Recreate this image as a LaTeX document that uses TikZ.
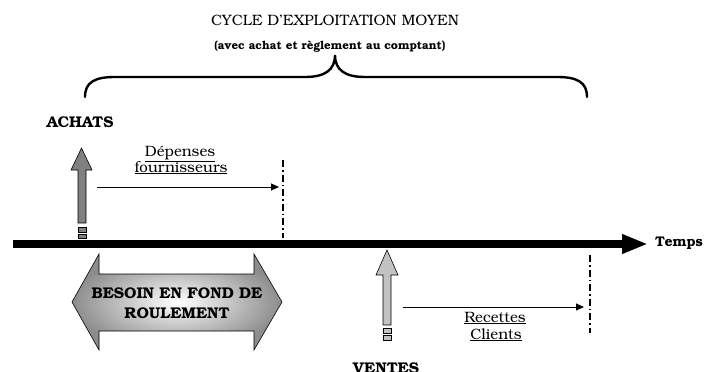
\documentclass[tikz,border=0pt]{standalone}
\usepackage[T1]{fontenc}
\usepackage{bookman}
\usetikzlibrary{arrows.meta}
\begin{document}
\begin{tikzpicture}[x=1pt,y=-1pt,
  lbl/.style={inner sep=0pt,anchor=base,align=center},
  bigbf/.style={lbl,font=\fontsize{15.5}{18}\selectfont\bfseries},
  normtxt/.style={lbl,font=\fontsize{15}{18}\selectfont},
  flow/.style={line width=1pt,-{Triangle[length=8pt,width=7pt]}},
  limit/.style={line width=1.4pt,dash pattern=on 7pt off 3pt on 1.5pt off 3pt},
  blockarrow/.style={draw=black,line width=0.6pt},
  brace/.style={line width=2.4pt,line cap=round}]
\useasboundingbox (0,0) rectangle (705,372);
% title
\node[lbl,font=\fontsize{15}{18}\selectfont] (title) at (335,25) {CYCLE D'EXPLOITATION MOYEN};
\node[lbl,font=\fontsize{11.5}{14}\selectfont\bfseries] (sub) at (330,49) {(avec achat et r\`eglement au comptant)};
% brace
\draw[brace] (85,97) .. controls (85,82) and (95,77) .. (115,77) -- (305,77)
  .. controls (325,77) and (335,70) .. (335,55)
  .. controls (335,70) and (345,77) .. (365,77) -- (557,77)
  .. controls (577,77) and (587,82) .. (587,97);
% timeline
\coordinate (t0) at (13,244);
\coordinate (t1) at (648,244);
\draw[line width=8pt,-{Triangle[length=26pt,width=18pt]}] (t0) -- (t1);
\node[lbl,font=\fontsize{14}{16}\selectfont\bfseries,anchor=base west] (temps) at (655,246) {Temps};
% achats
\node[bigbf] (achats) at (80,127) {ACHATS};
\path[blockarrow,fill=black!50] (78,223) -- (78,170) -- (71,170) -- (81.5,148) -- (92,170) -- (86,170) -- (86,223) -- cycle;
\draw[blockarrow,fill=black!50] (78,227) rectangle (86,232);
\draw[blockarrow,fill=black!50] (78,234) rectangle (86,238);
\coordinate (d0) at (97,187);
\coordinate (d1) at (279,187);
\draw[flow] (d0) -- (d1);
\node[normtxt] (dep1) at (180,156) {\underline{D\'epenses}};
\node[normtxt] (dep2) at (181,172) {\underline{fournisseurs}};
\coordinate (l0) at (283,160);
\coordinate (l1) at (283,238);
\draw[limit] (l0) -- (l1);
% ventes
\path[blockarrow,fill=black!24] (383,325) -- (383,275) -- (376,275) -- (387,250) -- (398,275) -- (391,275) -- (391,325) -- cycle;
\draw[blockarrow,fill=black!24] (383,328) rectangle (391,333);
\draw[blockarrow,fill=black!24] (383,335) rectangle (391,340);
\coordinate (r0) at (403,307);
\coordinate (r1) at (584,307);
\draw[flow] (r0) -- (r1);
\node[normtxt] (rec1) at (495,322) {\underline{Recettes}};
\node[normtxt] (rec2) at (496,339) {\underline{Clients}};
\coordinate (m0) at (590,255);
\coordinate (m1) at (590,333);
\draw[limit] (m0) -- (m1);
\node[bigbf] (ventes) at (386,373) {VENTES};
% BFR
\path[shade,inner color=white,outer color=black!45] (72,302) -- (99,254) -- (99,274) -- (254,274) -- (254,254) -- (282,302) -- (254,350) -- (254,331) -- (99,331) -- (99,350) -- cycle;
\draw[line width=0.6pt] (72,302) -- (99,254) -- (99,274) -- (254,274) -- (254,254) -- (282,302) -- (254,350) -- (254,331) -- (99,331) -- (99,350) -- cycle;
\node[bigbf] (bfr1) at (177,298) {BESOIN EN FOND DE};
\node[bigbf] (bfr2) at (177,318) {ROULEMENT};
\end{tikzpicture}
\end{document}
